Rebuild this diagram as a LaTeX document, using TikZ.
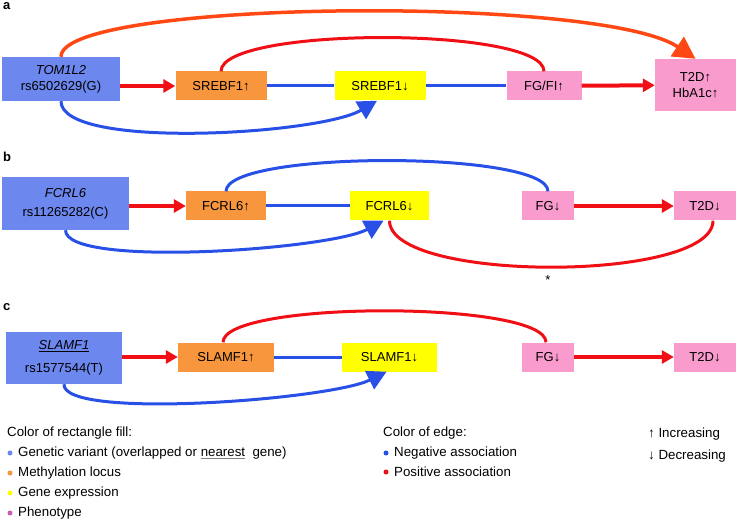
\documentclass[tikz,border=0pt]{standalone}
\usepackage{fontspec}
\setmainfont{Liberation Sans}
\usetikzlibrary{arrows.meta}

\definecolor{snpblue}{RGB}{108,135,238}
\definecolor{methorange}{RGB}{248,150,62}
\definecolor{expyellow}{RGB}{255,255,0}
\definecolor{phenopink}{RGB}{250,155,205}
\definecolor{negblue}{RGB}{40,80,230}
\definecolor{posred}{RGB}{240,15,20}
\definecolor{posorange}{RGB}{255,72,20}

\tikzset{
  box/.style={inner sep=0pt, minimum height=29pt, font=\fontsize{13}{16}\selectfont, align=center},
  snpbox/.style={box, fill=snpblue},
  methbox/.style={box, fill=methorange},
  exprbox/.style={box, fill=expyellow},
  phenobox/.style={box, fill=phenopink},
  posedge/.style={posred, line width=3pt},
  negedge/.style={negblue, line width=3pt},
  poslink/.style={posred, line width=4pt, -{Triangle[length=12pt,width=13pt]}},
  bigtip/.style={-{Triangle[length=19pt,width=20pt]}},
  panel/.style={font=\fontsize{13}{15}\selectfont\bfseries, anchor=north west, inner sep=0pt},
  legend/.style={font=\fontsize{13.3}{15}\selectfont, anchor=west, inner sep=0pt},
  legdot/.style={circle, fill=#1, inner sep=0pt, minimum size=5pt},
}

\begin{document}
\begin{tikzpicture}[x=1pt, y=-1pt]
    \useasboundingbox (0,0) rectangle (736,521);

    % panel a
    \node[panel] (la) at (3,2) {a};
    \node[snpbox, minimum width=118pt, minimum height=44pt] (snpa) at (61,79) {\textit{TOM1L2}\\rs6502629(G)};
    \node[methbox, minimum width=91pt] (metha) at (221,86) {SREBF1↑};
    \node[exprbox, minimum width=91pt] (expra) at (380,86) {SREBF1↓};
    \node[phenobox, minimum width=75pt] (fga) at (544,86) {FG/FI↑};
    \node[phenobox, minimum width=81pt, minimum height=52pt] (t2da) at (695.5,85) {T2D↑\\HbA1c↑};

    \draw[poslink] (snpa.east |- metha.west) -- (metha.west);
    \draw[negedge] (metha) -- (expra);
    \draw[negedge] (expra) -- (fga);
    \draw[poslink] (fga) -- (t2da);
    \draw[posorange, line width=3.5pt, -{Triangle[length=22pt,width=23pt]}] (snpa.north) .. controls +(-1,-57) and +(-95,-64) .. (t2da.north);
    \draw[posedge] (metha.north) .. controls +(0,-45) and +(0,-45) .. (fga.north);
    \draw[negedge, bigtip] (snpa.south) .. controls +(0,49) and +(-57,34) .. ([xshift=-3pt]expra.south);

    % panel b
    \node[panel] (lb) at (3,152) {b};
    \node[snpbox, minimum width=127pt, minimum height=53pt, font=\fontsize{13}{19}\selectfont] (snpb) at (65.5,203.5) {\textit{FCRL6}\\rs11265282(C)};
    \node[methbox, minimum width=80pt] (methb) at (226,206) {FCRL6↑};
    \node[exprbox, minimum width=79pt] (exprb) at (389.5,206) {FCRL6↓};
    \node[phenobox, minimum width=52pt] (fgb) at (548,206) {FG↓};
    \node[phenobox, minimum width=62pt] (t2db) at (705,206) {T2D↓};

    \draw[poslink] (snpb.east |- methb.west) -- (methb.west);
    \draw[negedge] (methb) -- (exprb);
    \draw[negedge] (methb.north) .. controls +(0,-41) and +(0,-41) .. (fgb.north);
    \draw[negedge, bigtip] (snpb.south) .. controls +(0,38) and +(-54,29) .. ([xshift=-6pt]exprb.south);
    \draw[poslink] (fgb) -- (t2db);
    \draw[posedge] ([xshift=8pt]t2db.south) .. controls +(0,62) and +(0,62) .. (exprb.south);
    \node[font=\fontsize{13}{15}\selectfont] (star) at (548,280) {*};

    % panel c
    \node[panel] (lc) at (3,303) {c};
    \node[snpbox, minimum width=116pt, minimum height=52pt, font=\fontsize{13}{23}\selectfont] (snpc) at (64,358) {\underline{\textit{SLAMF1}}\\rs1577544(T)};
    \node[methbox, minimum width=96pt] (methc) at (226,357) {SLAMF1↑};
    \node[exprbox, minimum width=95pt] (exprc) at (389.5,357) {SLAMF1↓};
    \node[phenobox, minimum width=52pt] (fgc) at (548,357) {FG↓};
    \node[phenobox, minimum width=62pt] (t2dc) at (705,357) {T2D↓};

    \draw[poslink] (snpc.east |- methc.west) -- (methc.west);
    \draw[negedge] (methc) -- (exprc);
    \draw[posedge] ([xshift=-3pt]methc.north) .. controls +(0,-42) and +(0,-42) .. ([xshift=-2pt]fgc.north);
    \draw[negedge, bigtip] (snpc.south) .. controls +(-2,36) and +(-56,28) .. ([xshift=-3pt]exprc.south);
    \draw[poslink] (fgc) -- (t2dc);

    % legend
    \node[legend] (fillhead) at (7,433) {Color of rectangle fill:};
    \node[legdot=snpblue] (d1) at (10,453) {};
    \node[legend] (l1) at (18,453) {Genetic variant (overlapped or {\color{gray}\underline{\textcolor{black}{nearest}}}\ \ gene)};
    \node[legdot=methorange] (d2) at (10,473) {};
    \node[legend] (l2) at (18,473) {Methylation locus};
    \node[legdot=expyellow] (d3) at (10,493) {};
    \node[legend] (l3) at (18,493) {Gene expression};
    \node[legdot=violet!40!phenopink] (d4) at (10,513) {};
    \node[legend] (l4) at (18,513) {Phenotype};

    \node[legend] (edgehead) at (383,433) {Color of edge:};
    \node[legdot=negblue] (d5) at (386,453) {};
    \node[legend] (l5) at (394,453) {Negative association};
    \node[legdot=posred] (d6) at (386,472) {};
    \node[legend] (l6) at (394,472) {Positive association};

    \node[legend] (incr) at (648,434) {↑ Increasing};
    \node[legend] (decr) at (648,456) {↓ Decreasing};
\end{tikzpicture}
\end{document}
